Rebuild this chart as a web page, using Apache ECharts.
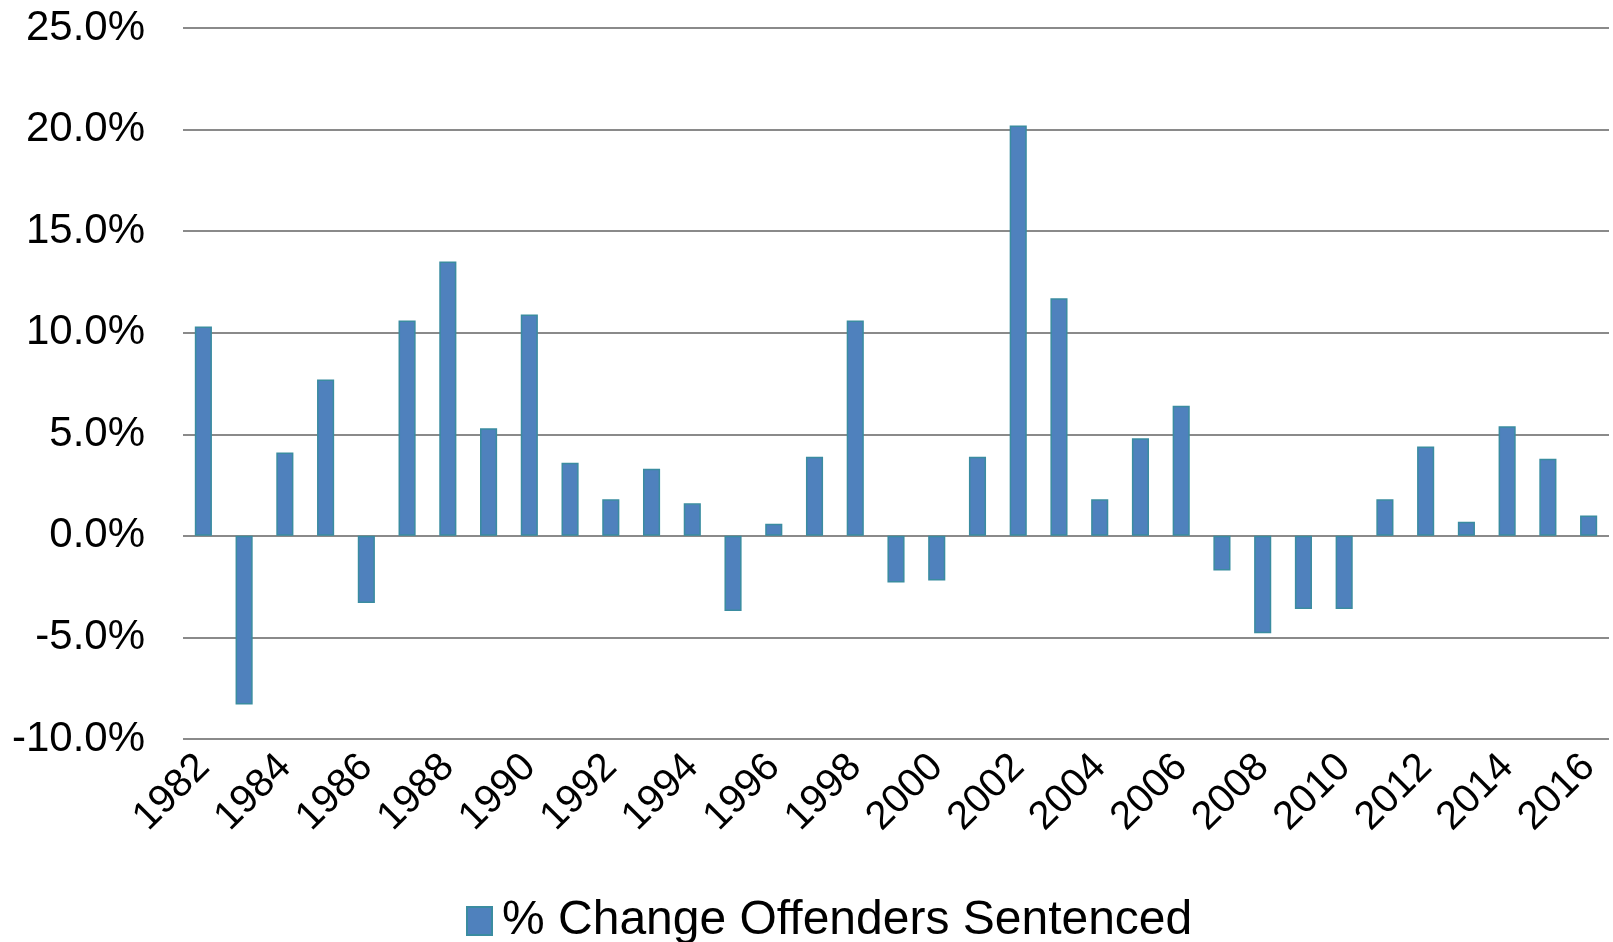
<!DOCTYPE html>
<html>
<head>
<meta charset="utf-8">
<script src="https://cdn.jsdelivr.net/npm/echarts@6/dist/echarts.min.js"></script>
<style>
html,body{margin:0;padding:0;background:#fff;}
#chart{width:1613px;height:942px;}
</style>
</head>
<body>
<div id="chart"></div>
<script>
const years = ['1982','1983','1984','1985','1986','1987','1988','1989','1990','1991','1992','1993','1994','1995','1996','1997','1998','1999','2000','2001','2002','2003','2004','2005','2006','2007','2008','2009','2010','2011','2012','2013','2014','2015','2016'];
const pctChange = [10.3,-8.3,4.1,7.7,-3.3,10.6,13.5,5.3,10.9,3.6,1.8,3.3,1.6,-3.7,0.6,3.9,10.6,-2.3,-2.2,3.9,20.2,11.7,1.8,4.8,6.4,-1.7,-4.8,-3.6,-3.6,1.8,4.4,0.7,5.4,3.8,1.0];
const seriesName = '% Change Offenders Sentenced';
const yMin = -10, yMax = 25, yStep = 5;

const chart = echarts.init(document.getElementById('chart'), null, {renderer:'canvas'});
chart.setOption({
  animation:false,
  backgroundColor:'#fff',
  textStyle:{fontFamily:'Liberation Sans, Arial, sans-serif'},
  grid:{left:183, right:4, top:28, bottom:203, containLabel:false},
  legend:{
    data:[seriesName],
    left:461, top:892,
    itemWidth:25, itemHeight:28, itemGap:10,
    icon:'rect',
    textStyle:{fontSize:48, color:'#000', padding:[0,0,0,5], fontFamily:'Liberation Sans, Arial, sans-serif'}
  },
  xAxis:{
    type:'category',
    data:years,
    axisLine:{show:false, onZero:false},
    axisTick:{show:false},
    axisLabel:{interval:1, rotate:45, fontSize:40, color:'#000', margin:22, fontFamily:'Liberation Sans, Arial, sans-serif'}
  },
  yAxis:{
    type:'value',
    min:yMin, max:yMax, interval:yStep,
    axisLine:{show:false},
    axisTick:{show:false},
    axisLabel:{fontSize:42, color:'#000', margin:38, formatter:v=>v.toFixed(1)+'%', fontFamily:'Liberation Sans, Arial, sans-serif'},
    splitLine:{lineStyle:{color:'#8a8a8a', width:2}}
  },
  series:[{
    name:seriesName,
    type:'bar',
    data:pctChange,
    barCategoryGap:'58%',
    itemStyle:{color:'#4F81BD', borderColor:'#3A8CA0', borderWidth:1.5}
  }]
});
</script>
</body>
</html>
